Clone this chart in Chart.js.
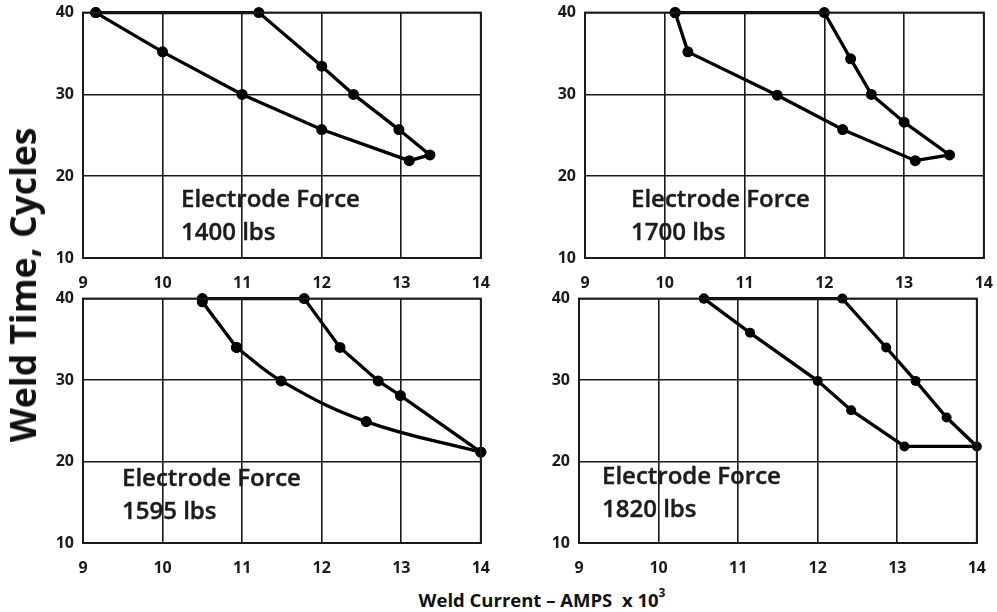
<!DOCTYPE html>
<html><head><meta charset="utf-8">
<script src="https://cdn.jsdelivr.net/npm/chart.js@4.4.1/dist/chart.umd.min.js"></script>
<style>
html,body{margin:0;padding:0;background:#fff;width:997px;height:612px;overflow:hidden;position:relative;font-family:'Open Sans',sans-serif;}
canvas{position:absolute;}
.note{position:absolute;font-family:'Open Sans',sans-serif;font-size:24px;font-weight:600;line-height:33px;color:#1c1c1c;white-space:nowrap;-webkit-text-stroke:0.4px #1c1c1c;}
#ytitle{position:absolute;left:22px;top:285px;transform:translate(-50%,-50%) rotate(-90deg);font-size:35.5px;font-weight:700;white-space:nowrap;color:#111;}
#xtitle{position:absolute;left:542px;top:599px;transform:translate(-50%,-50%);font-size:18.5px;font-weight:700;white-space:pre;color:#111;}
#xtitle sup{font-size:12px;position:relative;top:-2px;}
</style></head><body>
<canvas id="c0"></canvas><canvas id="c1"></canvas><canvas id="c2"></canvas><canvas id="c3"></canvas>
<div class="note" id="n0"></div><div class="note" id="n1"></div><div class="note" id="n2"></div><div class="note" id="n3"></div>
<div id="ytitle">Weld Time, Cycles</div>
<div id="xtitle">Weld Current – AMPS  x 10<sup>3</sup></div>
<script>
// ---- data ----
const xTicks = [9, 10, 11, 12, 13, 14];
const yTicks = [10, 20, 30, 40];
const noteTitle = 'Electrode Force';
const forceLabels = ['1400 lbs', '1700 lbs', '1595 lbs', '1820 lbs'];

const current1400 = [9.16, 10.0, 11.0, 12.0, 13.1, 13.36, 12.97, 12.4, 12.0, 11.21, 9.16];
const time1400    = [40, 35.2, 30, 25.7, 21.9, 22.6, 25.7, 30, 33.45, 40, 40];

const current1700 = [10.13, 10.29, 11.41, 12.23, 13.14, 13.57, 13.0, 12.59, 12.33, 12.0, 10.13];
const time1700    = [40, 35.2, 29.9, 25.7, 21.9, 22.6, 26.6, 30, 34.35, 40, 40];

const current1595 = [10.93, 10.5, 10.5, 11.78, 12.23, 12.71, 12.99, 14.0];
const time1595    = [34, 39.6, 40, 40, 34, 29.9, 28.1, 21.15];
const current1595Curve = [10.93, 11.49, 12.56, 14.0];
const time1595Curve    = [34, 29.9, 24.9, 21.15];

const current1820 = [10.57, 11.15, 12.0, 12.42, 13.09, 14.0, 13.62, 13.23, 12.86, 12.31, 10.57];
const time1820    = [40, 35.8, 29.9, 26.3, 21.85, 21.85, 25.4, 29.9, 34, 40, 40];

// ---- layout ----
const AXW = 50, AXH = 40, PT = 14, PR = 14;
const panels = [
  {plot:[83,13,481,258], note:[181,181], r:5.5, series:[[current1400,time1400,0]]},
  {plot:[585,13,984,258], note:[631,181], r:5.5, series:[[current1700,time1700,0]]},
  {plot:[83,299,481,543], note:[122,460], r:5.5, series:[[current1595,time1595,0],[current1595Curve,time1595Curve,0.4]]},
  {plot:[579,299,977,543], note:[602,458], r:5, series:[[current1820,time1820,0]]}
];

function pts(xs, ys){ return xs.map((x,i)=>({x:x, y:ys[i]})); }

const tickFont = {family:"'Open Sans', sans-serif", size:16, weight:'700'};
const ink = '#1a1a1a';

function build(cv, p, w, h){
  cv.width = w; cv.height = h;
  cv.style.width = w+'px'; cv.style.height = h+'px';
  const datasets = p.series.map(s => ({
    data: pts(s[0], s[1]), showLine:true, tension:s[2],
    borderColor:'#000', backgroundColor:'#000', borderWidth:3.3,
    pointRadius:p.r, pointHoverRadius:p.r, pointBackgroundColor:'#000', pointBorderWidth:0,
    clip:false
  }));
  return new Chart(cv, {
    type:'scatter',
    data:{datasets},
    options:{
      responsive:false, animation:false, devicePixelRatio:1,
      layout:{padding:{top:PT,right:PR,left:0,bottom:0}},
      plugins:{legend:{display:false}, tooltip:{enabled:false}},
      scales:{
        x:{type:'linear', min:xTicks[0], max:xTicks[xTicks.length-1],
           ticks:{stepSize:xTicks[1]-xTicks[0], color:ink, font:tickFont, padding:16, maxRotation:0},
           grid:{color:ink, lineWidth:1.6, drawTicks:false},
           border:{display:true, color:ink, width:2},
           afterFit:(s)=>{s.height = AXH;}},
        y:{type:'linear', min:yTicks[0], max:yTicks[yTicks.length-1],
           ticks:{stepSize:yTicks[1]-yTicks[0], color:ink, font:tickFont, padding:9},
           grid:{color:ink, lineWidth:1.6, drawTicks:false},
           border:{display:true, color:ink, width:2},
           afterFit:(s)=>{s.width = AXW;}}
      }
    },
    plugins:[{id:'frame', afterDraw(c){
      const a=c.chartArea, ctx=c.ctx; ctx.save(); ctx.strokeStyle=ink; ctx.lineWidth=2;
      ctx.strokeRect(a.left, a.top, a.right-a.left, a.bottom-a.top); ctx.restore();
    }}]
  });
}

panels.forEach((p, idx) => {
  const [l,t,r,b] = p.plot;
  const cv = document.getElementById('c'+idx);
  let w = (r-l) + AXW + PR, h = (b-t) + PT + AXH;
  let chart = build(cv, p, w, h);
  let ca = chart.chartArea;
  const nw = w + ((r-l) - (ca.right-ca.left));
  const nh = h + ((b-t) - (ca.bottom-ca.top));
  chart.destroy();
  chart = build(cv, p, Math.round(nw), Math.round(nh));
  ca = chart.chartArea;
  cv.style.left = (l - ca.left)+'px'; cv.style.top = (t - ca.top)+'px';
  const n = document.getElementById('n'+idx);
  n.style.left = p.note[0]+'px'; n.style.top = p.note[1]+'px';
  n.innerHTML = noteTitle + '<br>' + forceLabels[idx];
});
</script>
</body></html>
